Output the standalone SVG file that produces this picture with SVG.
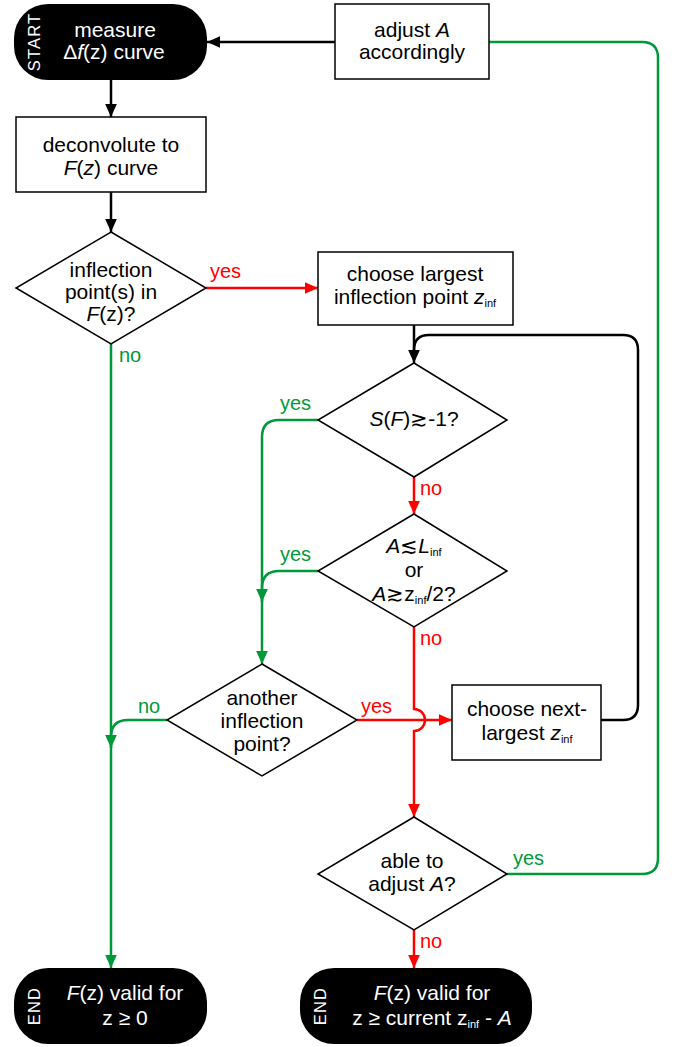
<svg xmlns="http://www.w3.org/2000/svg" width="686" height="1047" viewBox="0 0 686 1047">
<style>
text{font-family:"Liberation Sans",Arial,sans-serif;font-size:21px;text-anchor:middle;fill:#000}
.w{fill:#fff}
.vt{font-size:16.5px;letter-spacing:1.2px}
.lbl{font-size:20px;text-anchor:start}
.r{fill:#ff0000}
.g{fill:#00993a}
.box{fill:#fff;stroke:#000;stroke-width:1.5}
.term{fill:#000}
.c{fill:none;stroke-width:2.5}
.ck{stroke:#000}
.cr{stroke:#ff0000}
.cg{stroke:#00993a}
.sub{font-size:11px}
</style>
<defs>
<marker id="ak" viewBox="0 0 10 10" refX="10" refY="5" markerWidth="13" markerHeight="13" markerUnits="userSpaceOnUse" orient="auto"><path d="M0,0.5 L10,5 L0,9.5 z" fill="#000"/></marker>
<marker id="ar" viewBox="0 0 10 10" refX="10" refY="5" markerWidth="13" markerHeight="13" markerUnits="userSpaceOnUse" orient="auto"><path d="M0,0.5 L10,5 L0,9.5 z" fill="#ff0000"/></marker>
<marker id="ag" viewBox="0 0 10 10" refX="10" refY="5" markerWidth="13" markerHeight="13" markerUnits="userSpaceOnUse" orient="auto"><path d="M0,0.5 L10,5 L0,9.5 z" fill="#00993a"/></marker>
</defs>

<g id="connectors">
<path class="c ck" d="M111,80 V117" marker-end="url(#ak)"/>
<path class="c ck" d="M111,192 V232" marker-end="url(#ak)"/>
<path class="c ck" d="M335,42 H207" marker-end="url(#ak)"/>
<path class="c ck" d="M414,325 V363" marker-end="url(#ak)"/>
<path class="c ck" d="M601,720 H623 Q638,720 638,705 V350 Q638,335 623,335 H429 Q414,335 414,350"/>
<path class="c cr" d="M206,288 H318" marker-end="url(#ar)"/>
<path class="c cr" d="M414,477 V514" marker-end="url(#ar)"/>
<path class="c cr" d="M414,627 V709 A11,11 0 0 1 414,731 V817" marker-end="url(#ar)"/>
<path class="c cr" d="M357,720 H452" marker-end="url(#ar)"/>
<path class="c cr" d="M414,930 V968" marker-end="url(#ar)"/>
<path class="c cg" d="M111,344 V968" marker-end="url(#ag)"/>
<path class="c cg" d="M318,420 H279 Q262,420 262,437 V664" marker-end="url(#ag)"/>
<path class="c cg" d="M318,571 H279 Q262,571 262,588 V602" marker-end="url(#ag)"/>
<path class="c cg" d="M167,720 H128 Q111,720 111,737 V748" marker-end="url(#ag)"/>
<path class="c cg" d="M507,874 H642 Q658,874 658,858 V58 Q658,42 642,42 H489"/>
</g>

<g id="labels">
<text class="lbl r" x="210" y="278">yes</text>
<text class="lbl g" x="119" y="362">no</text>
<text class="lbl g" x="280" y="410">yes</text>
<text class="lbl r" x="420" y="495">no</text>
<text class="lbl g" x="280" y="561">yes</text>
<text class="lbl r" x="420" y="645">no</text>
<text class="lbl g" x="138" y="713">no</text>
<text class="lbl r" x="361" y="713">yes</text>
<text class="lbl g" x="513" y="865">yes</text>
<text class="lbl r" x="420" y="948">no</text>
</g>

<g id="start">
<rect class="term" x="14" y="4" width="193" height="76" rx="34"/>
<text class="w vt" transform="translate(40,42) rotate(-90)">START</text>
<text class="w" x="115" y="37">measure</text>
<text class="w" x="114" y="59">Δ<tspan font-style="italic">f</tspan>(z) curve</text>
</g>

<g id="adjust">
<rect class="box" x="335" y="4" width="154" height="75"/>
<text x="412" y="37">adjust <tspan font-style="italic">A</tspan></text>
<text x="412" y="59">accordingly</text>
</g>

<g id="deconvolute">
<rect class="box" x="16" y="117" width="190" height="75"/>
<text x="111" y="152">deconvolute to</text>
<text x="111" y="175"><tspan font-style="italic">F</tspan>(<tspan font-style="italic">z</tspan>) curve</text>
</g>

<g id="inflection">
<polygon class="box" points="111,232 206,288 111,344 16,288"/>
<text x="111" y="277">inflection</text>
<text x="111" y="299">point(s) in</text>
<text x="111" y="321"><tspan font-style="italic">F</tspan>(z)?</text>
</g>

<g id="choose-largest">
<rect class="box" x="318" y="252" width="195" height="73"/>
<text x="415" y="281">choose largest</text>
<text x="415" y="304">inflection point <tspan font-style="italic">z</tspan><tspan class="sub" dy="3">inf</tspan></text>
</g>

<g id="slope">
<polygon class="box" points="414,363 507,420 414,477 318,420"/>
<text x="414" y="426"><tspan font-style="italic">S</tspan>(<tspan font-style="italic">F</tspan>)≳-1?</text>
</g>

<g id="amplitude">
<polygon class="box" points="414,514 507,571 414,627 318,571"/>
<text x="414" y="553"><tspan font-style="italic">A</tspan>≲<tspan font-style="italic">L</tspan><tspan class="sub" dy="3">inf</tspan></text>
<text x="414" y="577">or</text>
<text x="414" y="601"><tspan font-style="italic">A</tspan>≳z<tspan class="sub" dy="3">inf</tspan><tspan dy="-3">/2?</tspan></text>
</g>

<g id="another">
<polygon class="box" points="262,664 357,720 262,776 167,720"/>
<text x="262" y="705">another</text>
<text x="262" y="728">inflection</text>
<text x="262" y="751">point?</text>
</g>

<g id="choose-next">
<rect class="box" x="452" y="685" width="149" height="75"/>
<text x="527" y="716">choose next-</text>
<text x="527" y="740">largest <tspan font-style="italic">z</tspan><tspan class="sub" dy="3">inf</tspan></text>
</g>

<g id="able">
<polygon class="box" points="414,817 507,874 414,930 318,874"/>
<text x="412" y="868">able to</text>
<text x="412" y="891">adjust <tspan font-style="italic">A</tspan>?</text>
</g>

<g id="end1">
<rect class="term" x="14" y="968" width="193" height="76" rx="34"/>
<text class="w vt" transform="translate(40,1006) rotate(-90)">END</text>
<text class="w" x="125" y="1000"><tspan font-style="italic">F</tspan>(z) valid for</text>
<text class="w" x="125" y="1025">z ≥ 0</text>
</g>

<g id="end2">
<rect class="term" x="300" y="968" width="232" height="76" rx="34"/>
<text class="w vt" transform="translate(326,1006) rotate(-90)">END</text>
<text class="w" x="432" y="1000"><tspan font-style="italic">F</tspan>(z) valid for</text>
<text class="w" x="432" y="1025">z ≥ current z<tspan class="sub" dy="3">inf</tspan><tspan dy="-3"> - </tspan><tspan font-style="italic">A</tspan></text>
</g>
</svg>
